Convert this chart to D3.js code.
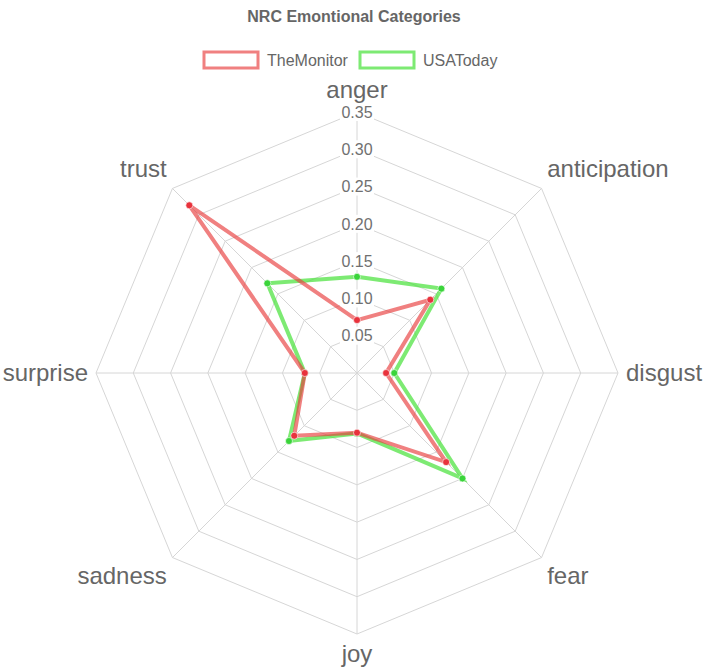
<!DOCTYPE html>
<html>
<head>
<meta charset="utf-8">
<script src="https://cdn.jsdelivr.net/npm/d3@7"></script>
<style>
  html, body { margin: 0; padding: 0; background: #fff; }
  svg { display: block; font-family: "Liberation Sans", Arial, Helvetica, sans-serif; }
</style>
</head>
<body>
<svg id="chart" width="707" height="670"></svg>
<script>
// emotion categories, clockwise from the top
var categories = ["anger", "anticipation", "disgust", "fear", "joy", "sadness", "surprise", "trust"];
var theMonitor = [0.071, 0.139, 0.039, 0.169, 0.080, 0.119, 0.070, 0.318];
var usaToday = [0.129, 0.160, 0.050, 0.200, 0.081, 0.129, 0.070, 0.170];
var tickValues = [0.05, 0.10, 0.15, 0.20, 0.25, 0.30, 0.35];
var seriesNames = ["TheMonitor", "USAToday"];

var svg = d3.select("#chart");
var cx = 357, cy = 373, radius = 261;

var r = d3.scaleLinear().domain([0, 0.35]).range([0, radius]);
var angle = d3.scalePoint().domain(categories).range([0, 2 * Math.PI * (categories.length - 1) / categories.length]);

var series = [
    {name: seriesNames[0], values: theMonitor, line: "rgba(232, 60, 60, 0.65)", point: "#e8323c"},
    {name: seriesNames[1], values: usaToday, line: "rgba(70, 225, 55, 0.7)", point: "#3ad43a"}
];

// title
svg.append("text")
    .attr("x", 354).attr("y", 22)
    .attr("text-anchor", "middle")
    .attr("font-size", 16).attr("font-weight", "bold")
    .attr("fill", "#666")
    .text("NRC Emontional Categories");

// legend
var legend = svg.append("g");
var legendX = [204, 360];
series.forEach(function (s, i) {
    legend.append("rect")
        .attr("x", legendX[i]).attr("y", 52)
        .attr("width", 54).attr("height", 16)
        .attr("fill", "#fff")
        .attr("stroke", s.line).attr("stroke-width", 3);
    legend.append("text")
        .attr("x", legendX[i] + 63).attr("y", 66)
        .attr("font-size", 16).attr("fill", "#666")
        .text(s.name);
});

var g = svg.append("g").attr("transform", "translate(" + cx + "," + cy + ")");

function pt(cat, v) {
    var a = angle(cat);
    return [Math.sin(a) * r(v), -Math.cos(a) * r(v)];
}

// grid rings
g.selectAll(".ring")
    .data(tickValues)
    .enter().append("polygon")
    .attr("class", "ring")
    .attr("points", function (t) {
        return categories.map(function (c) { return pt(c, t).join(","); }).join(" ");
    })
    .attr("fill", "none")
    .attr("stroke", "#d6d6d6").attr("stroke-width", 1);

// angle lines
g.selectAll(".spoke")
    .data(categories)
    .enter().append("line")
    .attr("class", "spoke")
    .attr("x1", 0).attr("y1", 0)
    .attr("x2", function (c) { return pt(c, 0.35)[0]; })
    .attr("y2", function (c) { return pt(c, 0.35)[1]; })
    .attr("stroke", "#d6d6d6").attr("stroke-width", 1);

// tick labels with white backdrop
var ticks = g.selectAll(".tick")
    .data(tickValues)
    .enter().append("g")
    .attr("class", "tick")
    .attr("transform", function (t) { return "translate(0," + (-r(t)) + ")"; });
ticks.append("rect")
    .attr("x", -17).attr("y", -9)
    .attr("width", 34).attr("height", 18)
    .attr("fill", "#fff");
ticks.append("text")
    .attr("text-anchor", "middle")
    .attr("dy", "0.36em")
    .attr("font-size", 16).attr("fill", "#707070")
    .text(d3.format(".2f"));

// point labels
var labelR = r.range()[1] + 8;
g.selectAll(".plabel")
    .data(categories)
    .enter().append("text")
    .attr("class", "plabel")
    .attr("x", function (c) { return Math.sin(angle(c)) * labelR; })
    .attr("y", function (c) { return -Math.cos(angle(c)) * labelR; })
    .attr("text-anchor", function (c) {
        var s = Math.sin(angle(c));
        return Math.abs(s) < 1e-6 ? "middle" : (s > 0 ? "start" : "end");
    })
    .attr("dy", function (c) {
        var co = Math.cos(angle(c));
        if (Math.abs(co) < 1e-6) return "0.35em";
        return co > 0 ? "-0.25em" : "0.85em";
    })
    .attr("font-size", 24).attr("fill", "#666")
    .text(function (c) { return c; });

// series: later ones drawn first so TheMonitor sits on top
var line = d3.lineRadial()
    .angle(function (d, i) { return angle(categories[i]); })
    .radius(function (d) { return r(d); })
    .curve(d3.curveLinearClosed);

series.slice().reverse().forEach(function (s) {
    var sg = g.append("g");
    sg.append("path")
        .attr("d", line(s.values))
        .attr("fill", "none")
        .attr("stroke", s.line).attr("stroke-width", 4)
        .attr("stroke-linejoin", "miter");
    sg.selectAll("circle")
        .data(s.values)
        .enter().append("circle")
        .attr("cx", function (d, i) { return pt(categories[i], d)[0]; })
        .attr("cy", function (d, i) { return pt(categories[i], d)[1]; })
        .attr("r", 3.5)
        .attr("fill", s.point)
        .attr("stroke", "rgba(255,255,255,0.6)").attr("stroke-width", 1);
});
</script>
</body>
</html>
